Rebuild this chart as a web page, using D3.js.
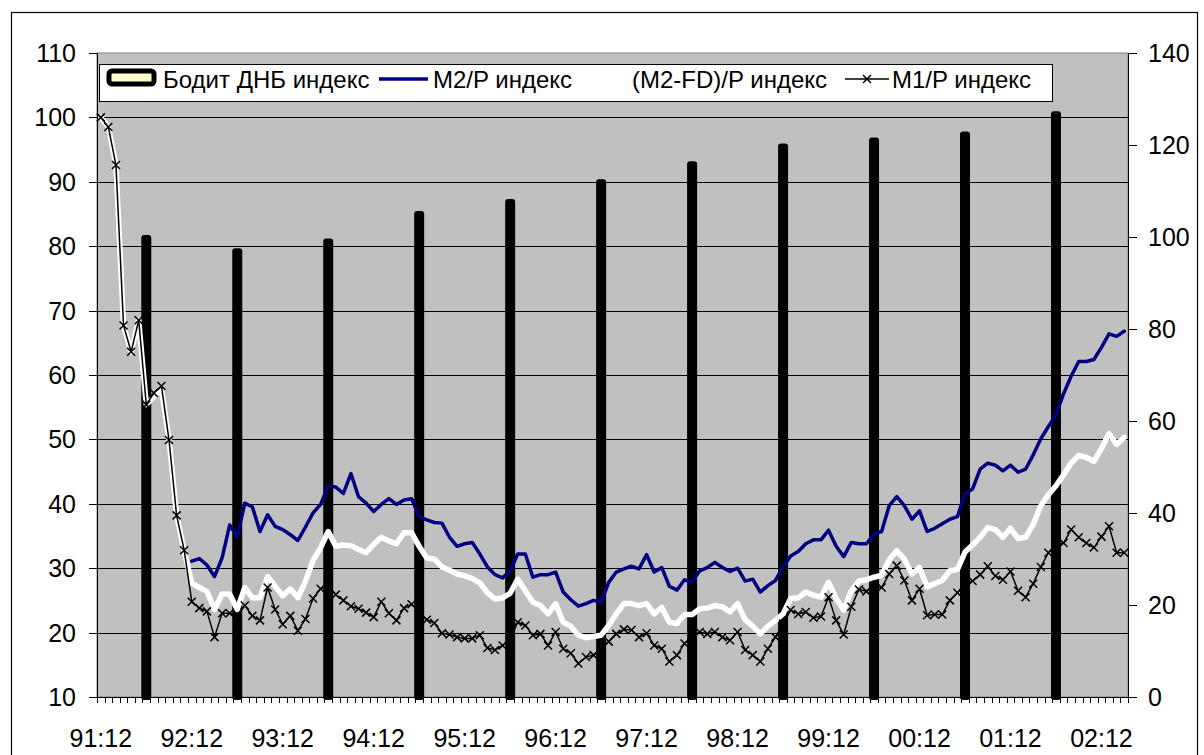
<!DOCTYPE html>
<html>
<head>
<meta charset="utf-8">
<script src="https://cdn.jsdelivr.net/npm/d3@7"></script>
<style>
  html, body { margin: 0; padding: 0; background: #fff; }
  svg { display: block; font-family: "Liberation Sans", Arial, sans-serif; }
</style>
</head>
<body>
<svg id="chart" width="1204" height="755"></svg>
<script>
// ---------------- DATA ----------------
// monthly categories 91:12 ... 03:03 (136 months)
const startYear = 1991, startMonth = 12, nMonths = 136;
const categories = [];
for (let k = 0; k < nMonths; k++) {
  const m0 = startMonth - 1 + k;
  const yy = (startYear + Math.floor(m0 / 12)) % 100;
  const mm = (m0 % 12) + 1;
  categories.push(String(yy).padStart(2, "0") + ":" + String(mm).padStart(2, "0"));
}
const xTickLabels = ["91:12","92:12","93:12","94:12","95:12","96:12","97:12","98:12","99:12","00:12","01:12","02:12"];
const leftTicks = [10,20,30,40,50,60,70,80,90,100,110];
const rightTicks = [0,20,40,60,80,100,120,140];

const seriesNames = ["Бодит ДНБ индекс", "M2/P индекс", "(M2-FD)/P индекс", "M1/P индекс"];

// Бодит ДНБ индекс (yearly, secondary axis)
const gdpCats = ["92:06","93:06","94:06","95:06","96:06","97:06","98:06","99:06","00:06","01:06","02:06"];
const gdpValues = [99.8, 96.9, 99.0, 105.0, 107.6, 111.9, 115.8, 119.7, 121.0, 122.3, 126.7];

// M2/P индекс (starts 92:12)
const m2p = [
  null,null,null,null,null,null,null,null,null,null,null,null,
  31.1,31.5,30.5,28.7,31.6,36.7,34.9,40.1,39.5,35.7,38.3,36.5,
  36.0,35.2,34.3,36.4,38.6,39.9,42.8,42.6,41.6,44.7,41.1,40.1,
  38.8,39.9,40.8,39.9,40.6,40.8,38.0,37.5,37.1,37.0,34.8,33.4,
  33.8,34.0,32.2,30.2,29.0,28.5,29.6,32.2,32.2,28.6,29.0,29.0,
  29.4,26.3,25.1,24.1,24.5,25.0,24.7,27.8,29.4,29.9,30.3,29.9,
  32.1,29.4,30.1,27.2,26.6,28.2,27.8,29.6,30.1,30.9,30.1,29.5,
  30.0,28.0,28.3,26.3,27.3,28.1,30.2,31.9,32.6,33.8,34.4,34.4,
  35.9,33.4,31.8,34.0,33.8,33.8,35.3,35.7,39.7,41.1,39.7,37.6,
  38.9,35.7,36.2,36.9,37.6,38.0,41.6,42.3,45.4,46.3,46.0,45.1,
  46.0,44.9,45.4,47.6,50.1,52.0,53.8,57.1,59.8,62.1,62.1,62.4,
  64.3,66.4,66.0,66.8
];

// (M2-FD)/P индекс
const m2fdp = [
  100.0,98.5,92.6,67.7,63.6,68.5,55.4,56.6,57.8,49.9,38.2,32.7,
  27.7,27.0,26.4,23.6,26.0,26.0,23.6,27.0,25.4,25.4,28.7,27.2,
  25.7,26.8,25.4,28.0,31.2,33.2,35.7,33.4,33.6,33.5,32.9,32.4,
  33.7,34.8,34.2,33.8,35.5,35.5,33.4,31.6,31.4,30.2,29.7,29.1,
  28.8,28.4,27.7,26.2,25.2,25.4,26.1,28.3,26.5,24.7,24.2,22.9,
  24.5,21.6,21.0,19.6,19.2,19.4,19.6,21.1,22.9,24.5,24.5,24.2,
  24.5,22.9,23.9,21.6,21.4,22.8,22.8,23.7,23.8,24.2,24.0,23.2,
  24.5,22.0,21.0,19.8,21.0,21.9,22.9,25.3,25.4,26.3,25.8,25.5,
  27.8,25.3,23.5,26.5,28.0,28.2,28.6,28.9,31.3,32.7,31.4,29.1,
  30.1,27.1,27.6,28.1,29.6,29.8,32.5,33.6,34.8,36.3,36.0,34.8,
  36.2,34.6,34.8,36.8,39.7,41.4,42.8,44.5,46.3,47.5,47.2,46.6,
  48.6,50.9,49.2,50.3
];

// M1/P индекс
const m1p = [
  100.0,98.5,92.6,67.7,63.6,68.5,55.4,57.2,58.3,49.9,38.2,32.8,
  24.8,23.8,23.3,19.3,23.0,23.0,22.6,24.2,22.6,21.9,27.0,23.6,
  21.3,22.6,20.3,22.1,25.3,26.8,27.3,25.9,25.0,24.1,23.7,23.1,
  22.4,24.8,23.0,21.9,23.8,24.4,23.2,22.0,21.5,19.9,19.7,19.3,
  19.1,19.1,19.6,17.6,17.3,18.0,19.0,21.6,21.1,19.6,19.8,18.0,
  20.1,17.5,16.8,15.2,16.2,16.5,17.5,18.6,19.8,20.5,20.4,19.3,
  19.9,18.0,17.5,15.5,16.5,18.3,19.3,20.1,19.8,20.1,19.3,18.8,
  20.1,17.3,16.5,15.5,17.5,19.3,21.4,23.5,22.9,23.2,22.3,22.5,
  25.5,21.9,19.7,24.0,26.7,26.4,27.1,27.0,29.1,30.4,28.1,25.0,
  26.8,22.7,22.8,22.8,25.0,26.2,27.7,28.0,29.0,30.3,28.8,28.2,
  29.5,26.5,25.5,27.6,30.2,32.4,33.8,33.9,36.0,34.8,33.9,33.2,
  34.9,36.5,32.4,32.4
];

// ---------------- CHART ----------------
const svg = d3.select("#chart");
const L = 97, R = 1128, T = 53, B = 697;

// outer chart border
svg.append("rect").attr("x", 11.5).attr("y", 12.5).attr("width", 1186).attr("height", 800)
  .attr("fill", "#fff").attr("stroke", "#000").attr("stroke-width", 1.2);

const x = d3.scaleBand().domain(categories).range([L, R]).padding(0);
const bw = x.bandwidth();
const cx = c => x(c) + bw / 2;
const yL = d3.scaleLinear().domain([10, 110]).range([B, T]);
const yR = d3.scaleLinear().domain([0, 140]).range([B, T]);

// plot area
svg.append("rect").attr("x", L).attr("y", T).attr("width", R - L).attr("height", B - T)
  .attr("fill", "#C0C0C0").attr("stroke", "#808080").attr("stroke-width", 1);

// gridlines (left axis)
svg.append("g").selectAll("line").data(leftTicks.filter(v => v > 10 && v < 110)).join("line")
  .attr("x1", L).attr("x2", R)
  .attr("y1", d => Math.round(yL(d)) + 0.5).attr("y2", d => Math.round(yL(d)) + 0.5)
  .attr("stroke", "#000").attr("stroke-width", 1);

// bars (secondary axis)
svg.append("g").selectAll("rect").data(gdpCats.map((c, i) => ({c, v: gdpValues[i]}))).join("rect")
  .attr("x", d => cx(d.c) - 2).attr("width", 4)
  .attr("y", d => yR(d.v)).attr("height", d => B - yR(d.v))
  .attr("fill", "#FFFFCC").attr("stroke", "#000").attr("stroke-width", 6)
  .attr("stroke-linejoin", "round");

// lines
const lineGen = arr => d3.line()
  .defined(d => d != null)
  .x((d, i) => cx(categories[i]))
  .y(d => yL(d))(arr);

svg.append("path").attr("d", lineGen(m2p)).attr("fill", "none")
  .attr("stroke", "#000080").attr("stroke-width", 3.5).attr("stroke-linejoin", "round").attr("stroke-linecap", "round");
svg.append("path").attr("d", lineGen(m2fdp)).attr("fill", "none")
  .attr("stroke", "#FFFFFF").attr("stroke-width", 5.5).attr("stroke-linejoin", "round").attr("stroke-linecap", "round");
svg.append("path").attr("d", lineGen(m1p)).attr("fill", "none")
  .attr("stroke", "#000").attr("stroke-width", 1.5).attr("stroke-linejoin", "round");

const xMark = "M-4,-4L4,4M-4,4L4,-4";
svg.append("g").selectAll("path").data(m1p).join("path")
  .attr("transform", (d, i) => `translate(${cx(categories[i])},${yL(d)})`)
  .attr("d", xMark).attr("stroke", "#000").attr("stroke-width", 1.5).attr("fill", "none");

// axes
const axisG = svg.append("g");
axisG.append("line").attr("x1", L + 0.5).attr("x2", L + 0.5).attr("y1", T).attr("y2", B).attr("stroke", "#000");
axisG.append("line").attr("x1", R + 0.5).attr("x2", R + 0.5).attr("y1", T).attr("y2", B).attr("stroke", "#000");
axisG.append("line").attr("x1", L).attr("x2", R + 1).attr("y1", B + 0.5).attr("y2", B + 0.5).attr("stroke", "#000");

// left ticks & labels
axisG.append("g").selectAll("line").data(leftTicks).join("line")
  .attr("x1", L - 8).attr("x2", L).attr("y1", d => Math.round(yL(d)) + 0.5).attr("y2", d => Math.round(yL(d)) + 0.5)
  .attr("stroke", "#000");
axisG.append("g").selectAll("text").data(leftTicks).join("text")
  .attr("x", 76).attr("y", d => yL(d)).attr("dy", "0.36em")
  .attr("text-anchor", "end").attr("font-size", 25).attr("fill", "#000").text(d => d);

// right ticks & labels
axisG.append("g").selectAll("line").data(rightTicks).join("line")
  .attr("x1", R).attr("x2", R + 9).attr("y1", d => Math.round(yR(d)) + 0.5).attr("y2", d => Math.round(yR(d)) + 0.5)
  .attr("stroke", "#000");
axisG.append("g").selectAll("text").data(rightTicks).join("text")
  .attr("x", 1148).attr("y", d => yR(d)).attr("dy", "0.36em")
  .attr("text-anchor", "start").attr("font-size", 25).attr("fill", "#000").text(d => d);

// bottom ticks at each category boundary
const bounds = categories.map(c => x(c)).concat([R]);
axisG.append("g").selectAll("line").data(bounds).join("line")
  .attr("x1", d => Math.round(d) + 0.5).attr("x2", d => Math.round(d) + 0.5)
  .attr("y1", B).attr("y2", B + 6).attr("stroke", "#000");
axisG.append("g").selectAll("text").data(xTickLabels).join("text")
  .attr("x", d => cx(d)).attr("y", 747)
  .attr("text-anchor", "middle").attr("font-size", 25).attr("fill", "#000").text(d => d);

// legend
const lg = svg.append("g");
lg.append("rect").attr("x", 99.5).attr("y", 64.5).attr("width", 953).attr("height", 37)
  .attr("fill", "#fff").attr("stroke", "#000").attr("stroke-width", 1);
const ly = 79, lfs = 24, lby = 87.5;
lg.append("rect").attr("x", 109).attr("y", 71).attr("width", 45).attr("height", 13).attr("rx", 3)
  .attr("fill", "#FFFFCC").attr("stroke", "#000").attr("stroke-width", 5);
lg.append("text").attr("x", 163).attr("y", lby).attr("font-size", lfs).text(seriesNames[0]);
lg.append("line").attr("x1", 379).attr("x2", 428).attr("y1", ly).attr("y2", ly)
  .attr("stroke", "#000080").attr("stroke-width", 3.5);
lg.append("text").attr("x", 433).attr("y", lby).attr("font-size", lfs).text(seriesNames[1]);
lg.append("line").attr("x1", 578).attr("x2", 627).attr("y1", ly).attr("y2", ly)
  .attr("stroke", "#FFFFFF").attr("stroke-width", 5.5);
lg.append("text").attr("x", 632).attr("y", lby).attr("font-size", lfs).text(seriesNames[2]);
lg.append("line").attr("x1", 845).attr("x2", 889).attr("y1", ly).attr("y2", ly)
  .attr("stroke", "#000").attr("stroke-width", 1.5);
lg.append("path").attr("transform", `translate(867,${ly})`).attr("d", xMark)
  .attr("stroke", "#000").attr("stroke-width", 1.5).attr("fill", "none");
lg.append("text").attr("x", 892).attr("y", lby).attr("font-size", lfs).text(seriesNames[3]);
</script>
</body>
</html>
